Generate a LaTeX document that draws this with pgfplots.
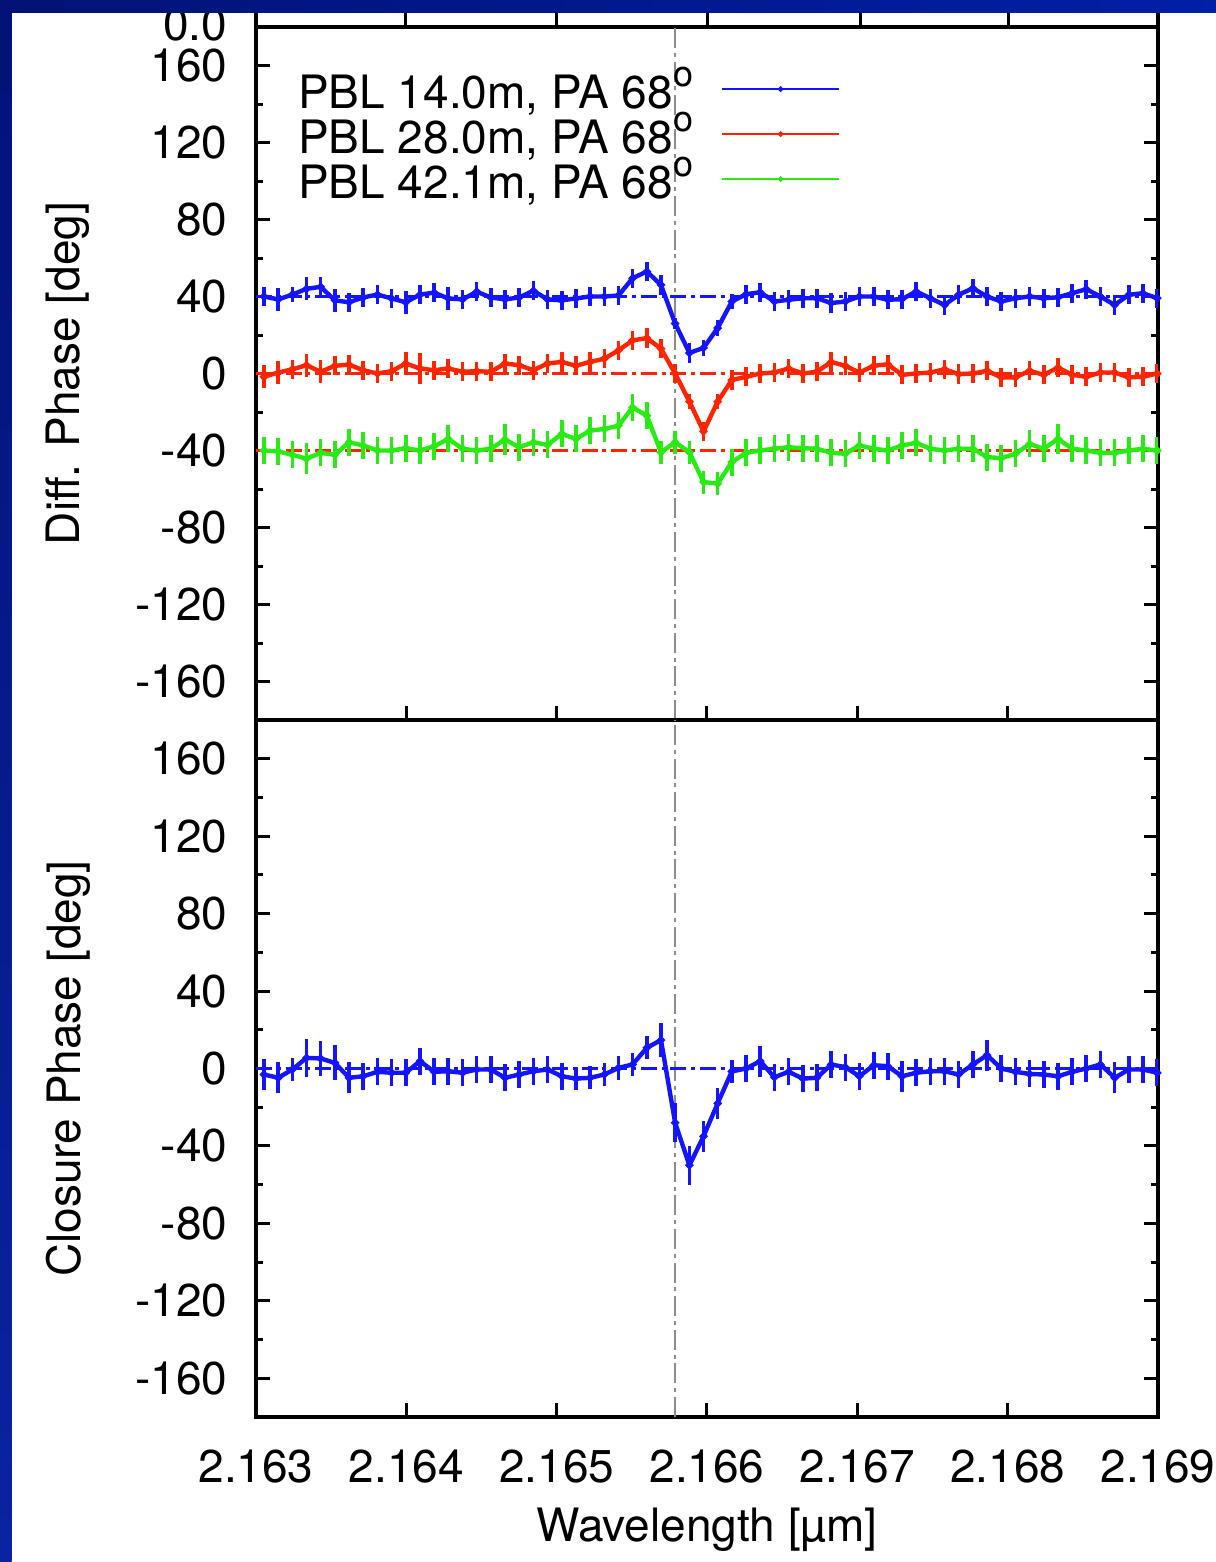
\documentclass[border=0pt]{standalone}
\usepackage{fontspec}
\setmainfont{TeX Gyre Heros}
\usepackage{pgfplots}
\usepackage{pgfplotstable}
\pgfplotsset{compat=1.18}
\definecolor{gpblue}{RGB}{20,20,255}
\definecolor{gpred}{RGB}{255,35,0}
\definecolor{gpgreen}{RGB}{40,235,20}
\definecolor{gpgray}{RGB}{140,140,140}
\definecolor{navyA}{RGB}{2,18,118}
\definecolor{navyB}{RGB}{0,32,165}
\definecolor{navyC}{RGB}{10,35,160}
\newcommand{\fs}{\fontsize{11.5}{13}\selectfont}
\newcommand{\dg}{\raisebox{5.5pt}{\fontsize{9}{9}\selectfont o}}

% x = wavelength offset from 2.163 micron, in units of 0.001 micron
% b/be: PBL 14.0m, r/re: PBL 28.0m, g/ge: PBL 42.1m (diff. phase), c/ce: closure phase
\pgfplotstableread{
x b be r re g ge c ce
0.053 40 5 -1.7 6 -40 7 -3.1 8
0.148 38.5 6 0.5 6 -40.5 7 -4.8 8
0.242 41 4 2.2 5 -42.2 7 -0.5 6
0.336 44 6 4.3 6 -44.3 8 5.5 10
0.430 45 5 0.9 6 -41.2 7 5.2 9
0.525 38 6 4 5 -42.2 7 2.9 9
0.619 37 5 4.6 5 -35.7 7 -4.8 8
0.713 39.5 5 1.7 5 -37.4 7 -4 7
0.808 41 5 0 5 -40 7 -1.7 7
0.902 39 5 1.2 5 -40 7 -2.2 7
0.996 37 6 5.2 6 -38.8 7 -2.2 7
1.091 41 5 2.6 8 -40 7 3.8 7
1.185 42 5 1.7 5 -37.8 7 -1.7 7
1.279 39 6 2.6 5 -34 7 -1.4 7
1.374 38.5 5 0.9 5 -39.1 7 -2.2 7
1.468 42.5 5 1.2 5 -40 7 -0.5 7
1.562 39.5 5 0.9 5 -39.1 7 -0.5 7
1.656 38.5 5 5.2 5 -34.3 8 -4.8 7
1.751 39.5 5 4.3 5 -38.3 7 -3.1 7
1.845 43 5 1.7 5 -35.7 7 -1.4 7
1.939 38.5 5 5.2 5 -37.1 7 -0.5 7
2.034 38 5 6 5 -31.4 7 -4 7
2.128 39 5 4 5 -34 7 -5.2 6
2.222 40 5 6 5 -29.7 7 -4.8 6
2.317 40 5 7.7 5 -28.8 7 -3.1 6
2.411 40.5 5 12 5 -27.1 7 0.3 6
2.505 49.5 5 17.2 5 -17.6 7 2.1 6
2.600 53 5 18.4 5 -21.9 7 10.7 6
2.694 46 5 12.9 5 -41 6 14.7 9
2.788 26 3 0 5 -35.7 6 -28 10
2.883 10.7 5 -14.6 4 -40.9 6 -50 10
2.977 13.3 4 -30.1 5 -56.4 6 -35 8
3.071 23.6 4 -14.6 4 -57.2 6 -18 8
3.165 37.4 4 -3.4 5 -46 7 -1.5 6
3.260 41.2 5 -1.7 5 -41.2 7 0 7
3.354 42.2 5 0 5 -40 7 3.8 8
3.448 37.4 5 0.5 5 -39.1 7 -4.5 7
3.543 38.3 5 2.6 5 -38.3 7 -1.7 7
3.637 39.1 5 0 5 -38.8 7 -5.2 7
3.731 39.1 5 0.9 5 -39.1 7 -4.8 7
3.826 36.6 5 6 5 -41.2 7 2.1 7
3.920 37.4 5 4 5 -41.7 7 0.7 7
4.014 40 5 0.5 5 -37.4 7 -4 7
4.109 40 5 4 5 -39.1 7 1.7 7
4.203 38.3 5 4.8 5 -40 7 1.2 7
4.297 38.6 5 -0.7 5 -37.4 7 -4 8
4.391 42.6 5 0 5 -36 7 -2.2 7
4.486 39.1 5 0.5 5 -39.1 7 -1.4 7
4.580 35.6 5 2.2 5 -40 7 -1.4 7
4.674 40.9 5 -0.3 5 -39.1 7 -3.1 7
4.769 44.3 5 0 5 -39.1 7 2.1 7
4.863 40 5 1.4 5 -43.4 7 6.9 8
4.957 37.4 5 -2 5 -44 7 0 7
5.052 39.1 5 -2 5 -41.7 7 -1.7 7
5.146 40 5 1.4 5 -36.6 7 -2.8 7
5.240 39.1 5 -0.7 5 -39.1 7 -3.1 7
5.335 39.6 5 3.1 5 -34 8 -4 7
5.429 41.7 5 -0.7 5 -39.1 7 -1.7 7
5.523 43.8 5 -1.7 5 -40 7 0 7
5.617 40 5 0.5 5 -41.2 7 2.1 7
5.712 35.6 5 0.5 5 -41.2 7 -4.8 8
5.806 40.9 5 -2 5 -40 7 -0.5 7
5.900 41.7 5 -1.7 5 -39.1 7 -0.5 7
5.995 39.1 5 0 5 -40 7 -2.2 7
}\data

\pgfplotsset{
  panel/.style={
    scale only axis, width=225.5pt, anchor=south west,
    xmin=0, xmax=6, ymin=-180, ymax=180,
    axis line style={line width=1pt},
    tick style={black, line width=0.75pt},
    tick align=inside,
    major tick length=3.5pt, minor tick length=1.75pt,
    xtick pos=left,
    xtick={0,1,2,3,4,5,6},
    ytick={-160,-120,-80,-40,0,40,80,120,160},
    yticklabels={-160,-120,-80,-40,0,40,80,120,160},
    minor ytick={-140,-100,-60,-20,20,60,100,140},
    tick label style={font=\fs},
    yticklabel style={anchor=east, inner sep=0pt, xshift=-7pt},
    every axis y label/.style={at={(axis description cs:-0.2084,0.5)}, rotate=90, anchor=center, font=\fs},
    every axis x label/.style={at={(axis description cs:0.5,0)}, anchor=center, yshift=-28.25pt, font=\fs},
  },
  refline/.style={line width=0.6pt, dash pattern=on 4pt off 1.2pt on 1pt off 1.2pt, forget plot},
  vline/.style={gpgray, line width=0.65pt, dash pattern=on 5pt off 1.2pt on 1pt off 1.2pt, forget plot},
  series/.style={line width=1.1pt, mark=*, mark size=0.35pt, error bars/.cd, y dir=both, y explicit, error mark=none, error bar style={line width=0.9pt}},
}

\begin{document}
\begin{tikzpicture}
\useasboundingbox (0,0) rectangle (304pt,-390.5pt);
\fill[white] (0,0) rectangle (304pt,-390.5pt);

\begin{axis}[panel, at={(64pt,-180pt)}, height=173.25pt,
  xticklabels={}, ylabel={Diff. Phase [deg]},
  legend plot pos=right, legend cell align=right,
  legend image code/.code={\draw[mark repeat=2,mark phase=2,line width=0.6pt,#1] plot coordinates {(0pt,1.75pt)(14.6pt,1.75pt)(29.2pt,1.75pt)};},
  legend style={at={(rel axis cs:0.6486,0.934)}, anchor=north east, draw=none, fill=none, inner sep=0pt, column sep=7pt, row sep=0pt, font=\fs, nodes={inner sep=0pt, text height=8.75pt, text depth=2.5pt}},
]
\addplot[vline] coordinates {(2.787,-180) (2.787,180)};
\addplot[gpblue, refline] coordinates {(0,40) (6,40)};
\addplot[gpred, refline] coordinates {(0,0) (6,0)};
\addplot[gpred, refline] coordinates {(0,-40) (6,-40)};
\addplot[gpblue, series] table[x=x, y=b, y error=be] {\data};
\addlegendentry{PBL 14.0m, PA 68\dg}
\addplot[gpred, series] table[x=x, y=r, y error=re] {\data};
\addlegendentry{PBL 28.0m, PA 68\dg}
\addplot[gpgreen, series] table[x=x, y=g, y error=ge] {\data};
\addlegendentry{PBL 42.1m, PA 68\dg}
\end{axis}

\begin{axis}[panel, at={(64pt,-354.25pt)}, height=174.25pt,
  xticklabels={2.163,2.164,2.165,2.166,2.167,2.168,2.169},
  xticklabel style={anchor=base, yshift=-16.25pt},
  xlabel={Wavelength [µm]}, ylabel={Closure Phase [deg]},
]
\addplot[vline] coordinates {(2.787,-180) (2.787,180)};
\addplot[gpblue, refline] coordinates {(0,0) (6,0)};
\addplot[gpblue, series] table[x=x, y=c, y error=ce] {\data};
\end{axis}

% remnants of the panel above (cropped)
\foreach \xx in {405,556,707,860,1008} \draw[line width=0.75pt] (\xx*0.25pt,-6.75pt) -- (\xx*0.25pt,-2pt);
\draw[line width=1pt] (64pt,-6.75pt) -- (64pt,0pt);
\draw[line width=1pt] (289.5pt,-6.75pt) -- (289.5pt,0pt);
\node[anchor=base east, inner sep=0pt, font=\fs] at (57pt,-10.2pt) {0.0};

% slide frame
\shade[left color=navyA, right color=navyB] (0,0) rectangle (304pt,-3.2pt);
\shade[top color=navyA, bottom color=navyC] (0,0) rectangle (2.9pt,-390.5pt);
\end{tikzpicture}
\end{document}
